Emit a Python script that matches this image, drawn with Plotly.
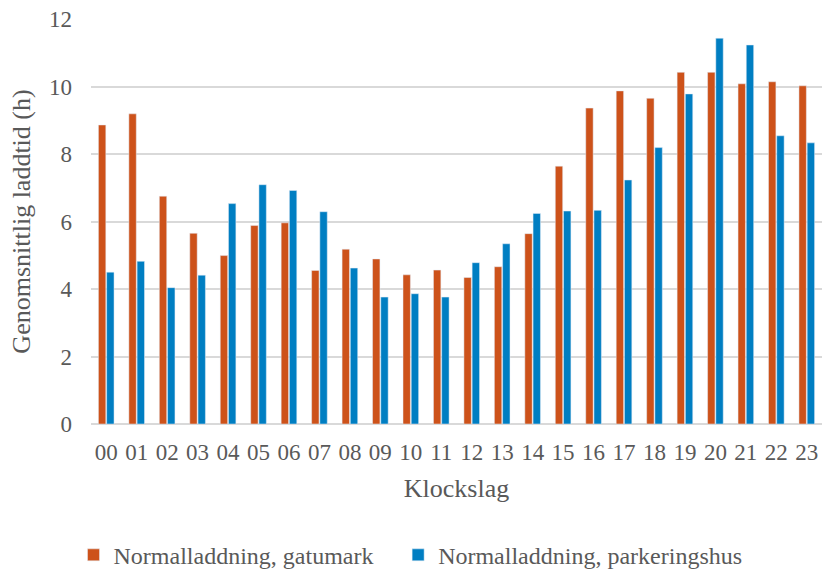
import plotly.graph_objects as go

hours = ["00", "01", "02", "03", "04", "05", "06", "07", "08", "09", "10", "11",
         "12", "13", "14", "15", "16", "17", "18", "19", "20", "21", "22", "23"]
gatumark = [8.86, 9.19, 6.75, 5.65, 4.99, 5.88, 5.96, 4.55, 5.18, 4.89, 4.42, 4.56,
            4.34, 4.66, 5.64, 7.64, 9.36, 9.87, 9.65, 10.42, 10.42, 10.08, 10.14, 10.02]
parkeringshus = [4.50, 4.82, 4.04, 4.41, 6.53, 7.09, 6.92, 6.29, 4.62, 3.76, 3.86, 3.76,
                 4.78, 5.34, 6.24, 6.31, 6.33, 7.23, 8.19, 9.78, 11.43, 11.23, 8.54, 8.33]

name_g = "Normalladdning, gatumark"
name_p = "Normalladdning, parkeringshus"

FONT = "Liberation Serif"
GRAY = "#595959"

fig = go.Figure()
fig.add_trace(go.Bar(x=hours, y=gatumark, name=name_g, marker_color="#CD521A",
                     legend="legend", showlegend=True))
fig.add_trace(go.Bar(x=hours, y=parkeringshus, name=name_p, marker_color="#007EC2",
                     legend="legend2", showlegend=True))

legend_common = dict(orientation="h", xref="container", xanchor="left",
                     y=0.031, yref="container", yanchor="middle",
                     font=dict(family=FONT, size=24, color=GRAY),
                     bgcolor="rgba(0,0,0,0)", visible=True)

fig.update_layout(
    width=826, height=573,
    showlegend=True,
    margin=dict(l=91, r=4, t=19, b=149),
    paper_bgcolor="white", plot_bgcolor="white",
    barmode="group", bargap=0.46, bargroupgap=0.1,
    font=dict(family=FONT, size=23, color=GRAY),
    legend=dict(x=0.089, **legend_common),
    legend2=dict(x=0.482, **legend_common),
    xaxis=dict(title=dict(text="Klockslag", font=dict(size=26), standoff=14),
               tickfont=dict(size=23), showgrid=False, ticks="", showline=False,
               ticklabelstandoff=12, tickangle=0),
    yaxis=dict(title=dict(text="Genomsnittlig laddtid (h)", font=dict(size=26), standoff=10),
               range=[0, 12], dtick=2, tickfont=dict(size=23),
               showgrid=True, gridcolor="#D9D9D9", gridwidth=1.5,
               zeroline=True, zerolinecolor="#D9D9D9", zerolinewidth=1.5,
               ticks="", ticklabelstandoff=18),
)

fig.write_html("out.html", config={"displayModeBar": False},
               post_script="document.body.style.margin='0';")
